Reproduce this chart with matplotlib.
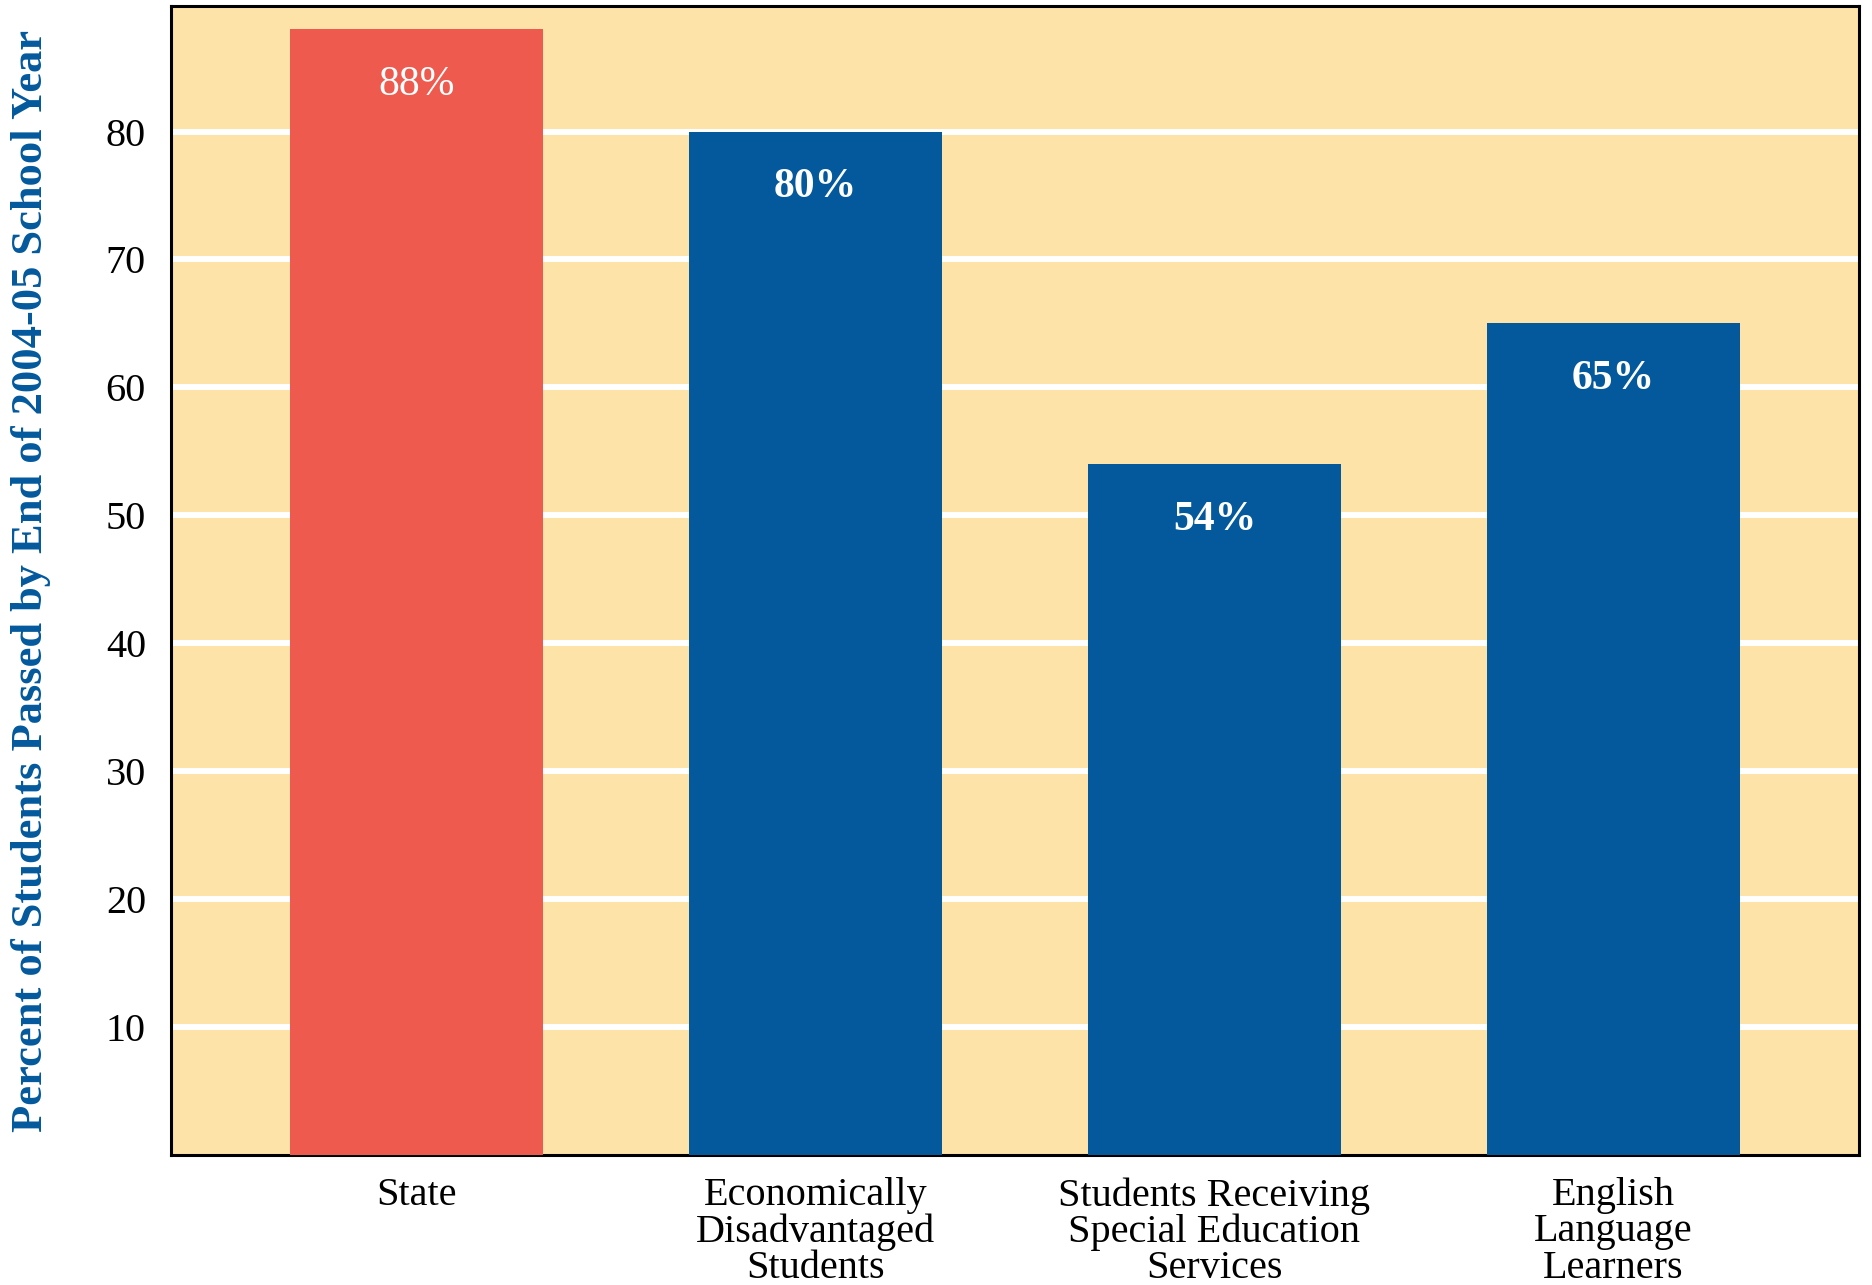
import matplotlib.pyplot as plt

groups = ["State", "Economically\nDisadvantaged\nStudents",
          "Students Receiving\nSpecial Education\nServices",
          "English\nLanguage\nLearners"]
passed = [88, 80, 54, 65]
labels = ["88%", "80%", "54%", "65%"]
yticks = [10, 20, 30, 40, 50, 60, 70, 80]

red = "#EF5A4E"
blue = "#03599C"
cream = "#FDE3A7"

plt.rcParams['font.family'] = ['Liberation Serif', 'DejaVu Serif']

fig = plt.figure(figsize=(18.72, 12.85), dpi=100)
ax = fig.add_axes([0.0913, 0.1012, 0.9017, 0.894])
ax.set_facecolor(cream)

x = list(range(len(groups)))
colors = [red] + [blue] * (len(groups) - 1)
weights = ["normal"] + ["bold"] * (len(groups) - 1)
bars = ax.bar(x, passed, width=0.633, color=colors, zorder=3)

for b, txt, w in zip(bars, labels, weights):
    ax.annotate(txt, (b.get_x() + b.get_width() / 2, b.get_height()),
                xytext=(0, -40), textcoords="offset points",
                ha="center", va="center", color="white",
                fontsize=30, fontweight=w, zorder=4)

ax.set_xlim(-0.615, 3.615)
ax.set_ylim(0, 89.8)
ax.set_yticks(yticks)
ax.set_xticks(x)
ax.set_xticklabels(groups, fontsize=29, linespacing=0.97)
ax.tick_params(axis="y", labelsize=29, length=0, pad=18)
ax.tick_params(axis="x", length=0, pad=16)
ax.yaxis.grid(True, color="white", linewidth=4.3, zorder=1)
ax.set_axisbelow(True)

for s in ax.spines.values():
    s.set_linewidth(2.2)
    s.set_color("black")

ax.set_ylabel("Percent of Students Passed by End of 2004-05 School Year",
              fontsize=32, fontweight="bold", color=blue)
ax.yaxis.set_label_coords(-0.071, 0.5)

fig.savefig("out.png", dpi=100)
